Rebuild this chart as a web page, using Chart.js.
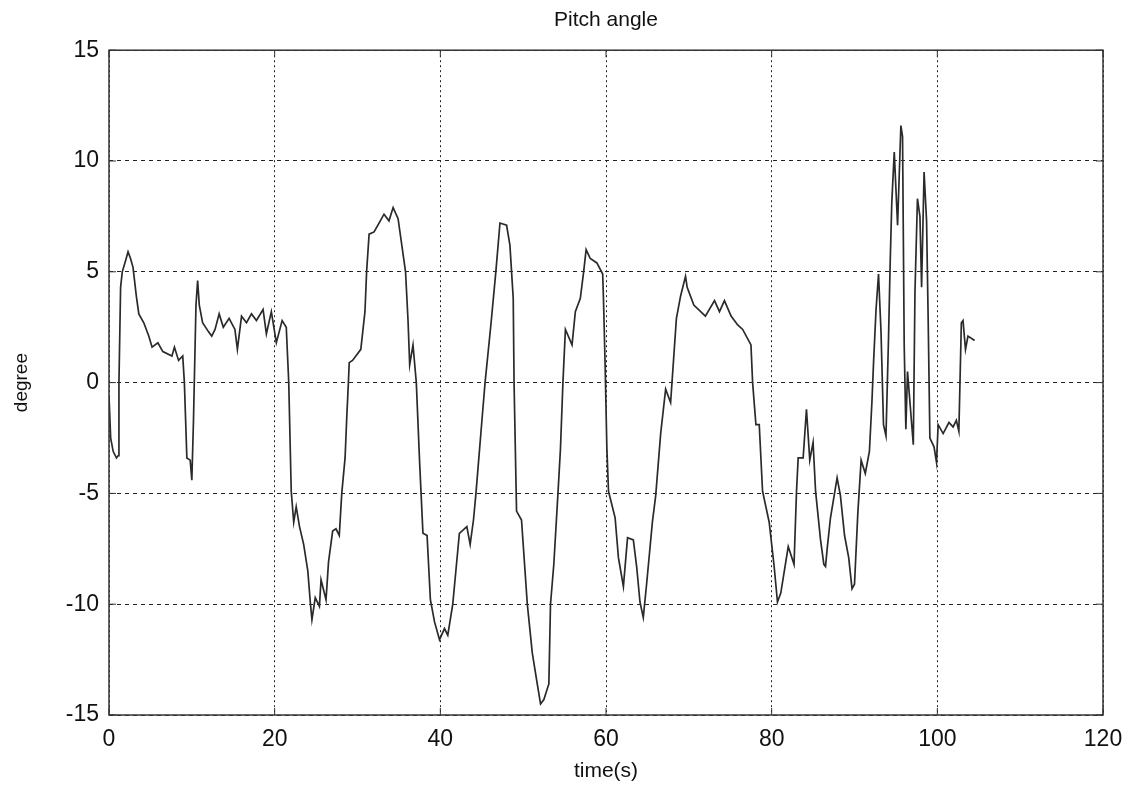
<!DOCTYPE html>
<html>
<head>
<meta charset="utf-8">
<script src="https://cdn.jsdelivr.net/npm/chart.js@4.4.0/dist/chart.umd.min.js"></script>
<style>
  html, body { margin: 0; padding: 0; background: #fff; }
  #wrap { width: 1142px; height: 788px; }
</style>
</head>
<body>
<div id="wrap"><canvas id="plot"></canvas></div>
<script>
// time (s) and pitch angle (degree)
const timeS = [
  0.0, 0.2, 0.5, 0.9, 1.1, 1.2, 1.4, 1.6, 2.0, 2.3, 2.6, 2.9, 3.3, 3.6, 4.2, 4.8, 5.2, 5.9, 6.5, 7.6,
  7.9, 8.4, 8.9, 9.1, 9.4, 9.8, 10.0, 10.2, 10.5, 10.7, 10.9, 11.3, 12.0, 12.4, 12.8, 13.3, 13.8, 14.5, 15.2, 15.5,
  16.0, 16.6, 17.2, 17.8, 18.6, 19.0, 19.6, 20.2, 20.9, 21.4, 21.7, 22.0, 22.3, 22.6, 23.0, 23.5, 24.0, 24.3, 24.5, 24.9,
  25.4, 25.6, 26.2, 26.5, 27.0, 27.4, 27.8, 28.1, 28.5, 28.7, 28.9, 29.0, 29.4, 30.4, 30.9, 31.1, 31.4, 32.0, 32.6, 33.2,
  33.8, 34.3, 34.9, 35.5, 35.8, 36.1, 36.3, 36.7, 37.1, 37.5, 37.9, 38.4, 38.8, 39.3, 39.9, 40.5, 40.9, 41.5, 42.3, 43.2,
  43.6, 44.0, 44.3, 45.0, 45.4, 46.1, 46.7, 47.2, 48.0, 48.4, 48.8, 48.9, 49.2, 49.8, 50.5, 51.1, 51.7, 52.1, 52.5, 53.1,
  53.3, 53.7, 54.2, 54.5, 54.8, 55.1, 55.9, 56.3, 56.9, 57.3, 57.6, 58.1, 58.9, 59.6, 59.7, 59.9, 60.1, 60.3, 60.7, 61.1,
  61.5, 62.1, 62.6, 63.3, 63.7, 64.1, 64.5, 64.9, 65.6, 66.0, 66.6, 67.2, 67.8, 68.5, 69.0, 69.6, 69.8, 70.6, 72.0, 73.1,
  73.7, 74.3, 75.1, 75.9, 76.5, 77.5, 77.7, 78.1, 78.5, 78.9, 79.7, 80.3, 80.7, 81.1, 81.7, 82.0, 82.7, 83.0, 83.2, 83.8,
  84.2, 84.6, 85.0, 85.3, 85.9, 86.3, 86.5, 86.7, 87.1, 87.9, 88.3, 88.8, 89.3, 89.7, 90.0, 90.4, 90.8, 91.3, 91.8, 92.1,
  92.3, 92.6, 92.9, 93.2, 93.5, 93.8, 94.1, 94.3, 94.5, 94.8, 95.2, 95.6, 95.8, 96.0, 96.2, 96.4, 97.1, 97.3, 97.6, 97.9,
  98.1, 98.4, 98.7, 98.9, 99.1, 99.6, 99.9, 100.1, 100.7, 101.4, 101.9, 102.3, 102.6, 102.9, 103.1, 103.4, 103.7, 104.5
];
const pitchDeg = [
  -0.6, -2.5, -3.1, -3.4, -3.3, 0, 4.3, 5.0, 5.5, 5.9, 5.6, 5.2, 3.9, 3.1, 2.7, 2.1, 1.6, 1.8, 1.4, 1.2,
  1.6, 1.0, 1.2, 0, -3.4, -3.5, -4.4, -1.7, 3.5, 4.6, 3.5, 2.7, 2.3, 2.1, 2.4, 3.1, 2.5, 2.9, 2.4, 1.5,
  3.0, 2.7, 3.1, 2.8, 3.3, 2.2, 3.2, 1.8, 2.8, 2.5, 0, -4.9, -6.3, -5.6, -6.5, -7.3, -8.5, -9.9, -10.7, -9.7,
  -10.1, -8.9, -9.8, -8.1, -6.7, -6.6, -6.9, -5.0, -3.4, -1.6, 0, 0.9, 1.0, 1.5, 3.2, 5.0, 6.7, 6.8, 7.2, 7.6,
  7.3, 7.9, 7.4, 5.8, 5.0, 2.8, 0.8, 1.7, 0, -3.6, -6.8, -6.9, -9.8, -10.8, -11.6, -11.1, -11.4, -10.0, -6.8, -6.5,
  -7.3, -6.2, -5.0, -1.8, 0, 2.6, 5.0, 7.2, 7.1, 6.2, 3.8, 0, -5.8, -6.2, -10.0, -12.2, -13.6, -14.5, -14.3, -13.6,
  -10.0, -8.2, -5.0, -3.0, 0, 2.4, 1.7, 3.2, 3.8, 5.0, 6.0, 5.6, 5.4, 4.9, 3.7, 0.7, -2.9, -4.9, -5.5, -6.1,
  -7.9, -9.2, -7.0, -7.1, -8.3, -9.9, -10.6, -9.1, -6.3, -5.1, -2.3, -0.3, -0.9, 2.9, 3.9, 4.8, 4.3, 3.5, 3.0, 3.7,
  3.2, 3.7, 3.0, 2.6, 2.4, 1.7, 0, -1.9, -1.9, -4.9, -6.3, -8.3, -9.9, -9.5, -8.1, -7.4, -8.2, -4.9, -3.4, -3.4,
  -1.2, -3.5, -2.7, -4.9, -7.1, -8.2, -8.3, -7.5, -6.1, -4.3, -5.1, -6.9, -7.9, -9.3, -9.1, -5.9, -3.5, -4.1, -3.1, -0.9,
  0.9, 3.3, 4.9, 2.3, -1.9, -2.4, 1.9, 5.3, 8.1, 10.4, 7.1, 11.6, 11.1, 1.7, -2.1, 0.5, -2.8, 4.1, 8.3, 7.5,
  4.3, 9.5, 7.3, 2.7, -2.5, -2.9, -3.6, -1.9, -2.3, -1.8, -2.0, -1.7, -2.2, 2.7, 2.8, 1.5, 2.1, 1.9
];
const xTicks = [0, 20, 40, 60, 80, 100, 120];
const yTicks = [-15, -10, -5, 0, 5, 10, 15];

const FONT = "'Liberation Sans', Arial, sans-serif";

// draw the closed box around the plot area, like matlab's axes
const frameBox = {
  id: "frameBox",
  afterDraw(chart) {
    const a = chart.chartArea;
    const ctx = chart.ctx;
    ctx.save();
    ctx.strokeStyle = "#333";
    ctx.lineWidth = 1.5;
    ctx.strokeRect(a.left, a.top, a.right - a.left, a.bottom - a.top);
    // small inward tick marks
    ctx.lineWidth = 1;
    const xs = chart.scales.x, ys = chart.scales.y;
    xTicks.forEach((v) => {
      const px = xs.getPixelForValue(v);
      ctx.beginPath();
      ctx.moveTo(px, a.bottom); ctx.lineTo(px, a.bottom - 7);
      ctx.moveTo(px, a.top); ctx.lineTo(px, a.top + 7);
      ctx.stroke();
    });
    yTicks.forEach((v) => {
      const py = ys.getPixelForValue(v);
      ctx.beginPath();
      ctx.moveTo(a.left, py); ctx.lineTo(a.left + 7, py);
      ctx.moveTo(a.right, py); ctx.lineTo(a.right - 7, py);
      ctx.stroke();
    });
    ctx.restore();
  },
};

new Chart(document.getElementById("plot"), {
  type: "line",
  data: {
    datasets: [
      {
        label: "Pitch angle",
        data: timeS.map((t, i) => ({ x: t, y: pitchDeg[i] })),
        borderColor: "#2a2a2a",
        borderWidth: 1.7,
        pointRadius: 0,
        tension: 0,
        fill: false,
      },
    ],
  },
  options: {
    responsive: true,
    maintainAspectRatio: false,
    animation: false,
    layout: { padding: { left: 0, right: 39, top: 0, bottom: 0 } },
    plugins: {
      legend: { display: false },
      tooltip: { enabled: false },
      title: {
        display: true,
        fullSize: false,
        text: "Pitch angle",
        color: "#111",
        font: { family: FONT, size: 21, weight: "normal" },
        padding: { top: 8, bottom: 17 },
      },
    },
    scales: {
      x: {
        type: "linear",
        min: 0,
        max: 120,
        afterBuildTicks: (s) => { s.ticks = xTicks.map((v) => ({ value: v })); },
        afterFit: (s) => { s.height = 73; },
        grid: { color: "#222", lineWidth: 1, drawTicks: false },
        border: { display: false, dash: [2, 3] },
        ticks: { color: "#111", font: { family: FONT, size: 23 }, padding: 11, maxRotation: 0 },
        title: {
          display: true,
          text: "time(s)",
          color: "#111",
          font: { family: FONT, size: 21 },
          padding: { top: 0, bottom: 4 },
        },
      },
      y: {
        type: "linear",
        min: -15,
        max: 15,
        afterBuildTicks: (s) => { s.ticks = yTicks.map((v) => ({ value: v })); },
        afterFit: (s) => { s.width = 109; },
        grid: { color: "#222", lineWidth: 1, drawTicks: false },
        border: { display: false, dash: [4, 4] },
        ticks: { color: "#111", font: { family: FONT, size: 23 }, padding: 10 },
        title: {
          display: true,
          text: "degree",
          color: "#111",
          font: { family: FONT, size: 19 },
          padding: { top: 10, bottom: 0 },
        },
      },
    },
  },
  plugins: [frameBox],
});
</script>
</body>
</html>
